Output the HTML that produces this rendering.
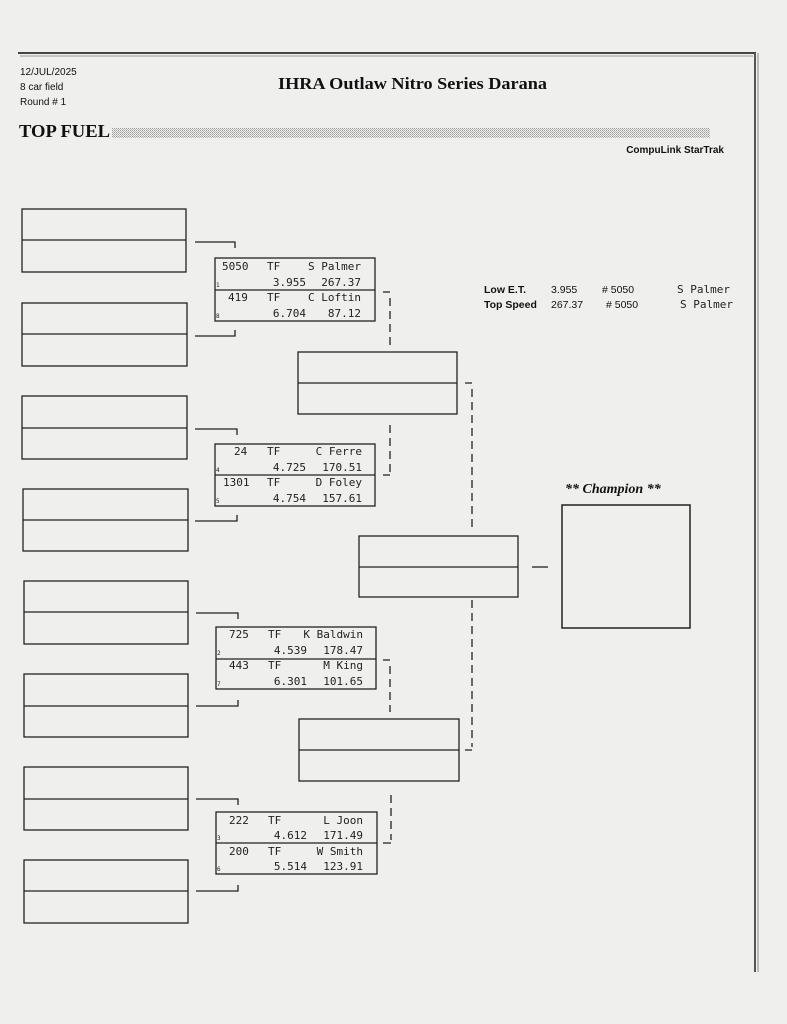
<!DOCTYPE html>
<html><head><meta charset="utf-8"><style>
html,body{margin:0;padding:0;background:#efefee;}
svg{display:block}
.m{font-family:"DejaVu Sans Mono","Liberation Mono",monospace;font-size:11px;fill:#222}
.s{font-family:"Liberation Sans",sans-serif;fill:#111}
.sd{font-family:"DejaVu Sans Mono",monospace;font-size:6px;fill:#222}
</style></head><body>
<svg width="787" height="1024" viewBox="0 0 787 1024" xmlns="http://www.w3.org/2000/svg">
<defs><pattern id="dots" width="2" height="2" patternUnits="userSpaceOnUse"><rect width="1" height="1" fill="#888"/><rect x="1" y="1" width="1" height="1" fill="#aaa"/></pattern></defs>
<rect width="787" height="1024" fill="#efefee"/>
<line x1="18" y1="53" x2="756" y2="53" stroke="#444" stroke-width="2"/>
<line x1="20" y1="56" x2="753" y2="56" stroke="#999" stroke-width="1"/>
<line x1="755" y1="53" x2="755" y2="972" stroke="#555" stroke-width="2"/>
<line x1="758" y1="53" x2="758" y2="972" stroke="#888" stroke-width="1"/>
<text x="20" y="75" class="s" font-size="10">12/JUL/2025</text>
<text x="20" y="90" class="s" font-size="10">8 car field</text>
<text x="20" y="105" class="s" font-size="10">Round # 1</text>
<text x="278" y="89" font-family="Liberation Serif,serif" font-weight="bold" font-size="17" fill="#111" textLength="269" lengthAdjust="spacingAndGlyphs">IHRA Outlaw Nitro Series Darana</text>
<text x="19" y="137" font-family="Liberation Serif,serif" font-weight="bold" font-size="18" fill="#111" textLength="91" lengthAdjust="spacingAndGlyphs">TOP FUEL</text>
<rect x="112" y="128" width="598" height="10" fill="url(#dots)" opacity="0.8"/>
<text x="724" y="153" class="s" font-size="10" text-anchor="end" font-weight="bold">CompuLink StarTrak</text>
<g stroke="#222" stroke-width="1.3" fill="none">
<rect x="22" y="209" width="164" height="63"/><line x1="22" y1="240" x2="186" y2="240"/>
<rect x="22" y="303" width="165" height="63"/><line x1="22" y1="334" x2="187" y2="334"/>
<rect x="22" y="396" width="165" height="63"/><line x1="22" y1="428" x2="187" y2="428"/>
<rect x="23" y="489" width="165" height="62"/><line x1="23" y1="520" x2="188" y2="520"/>
<rect x="24" y="581" width="164" height="63"/><line x1="24" y1="612" x2="188" y2="612"/>
<rect x="24" y="674" width="164" height="63"/><line x1="24" y1="706" x2="188" y2="706"/>
<rect x="24" y="767" width="164" height="63"/><line x1="24" y1="799" x2="188" y2="799"/>
<rect x="24" y="860" width="164" height="63"/><line x1="24" y1="891" x2="188" y2="891"/>
<path d="M195 242H235V248M195 336H235V330"/>
<path d="M195 429H237V435M195 521H237V515"/>
<path d="M196 613H238V619M196 706H238V700"/>
<path d="M196 799H238V805M196 891H238V885"/>
<rect x="215" y="258" width="160" height="63"/><line x1="215" y1="290" x2="375" y2="290"/>
<rect x="215" y="444" width="160" height="62"/><line x1="215" y1="475" x2="375" y2="475"/>
<rect x="216" y="627" width="160" height="62"/><line x1="216" y1="659" x2="376" y2="659"/>
<rect x="216" y="812" width="161" height="62"/><line x1="216" y1="843" x2="377" y2="843"/>
<rect x="298" y="352" width="159" height="62"/><line x1="298" y1="383" x2="457" y2="383"/>
<rect x="299" y="719" width="160" height="62"/><line x1="299" y1="750" x2="459" y2="750"/>
<rect x="359" y="536" width="159" height="61"/><line x1="359" y1="567" x2="518" y2="567"/>
<rect x="562" y="505" width="128" height="123" stroke-width="1.5"/>
<line x1="532" y1="567" x2="548" y2="567"/>
<path d="M383 292H390M383 475H390M383 660H390M383 843H391M465 383H472M465 750H472"/>
</g>
<g stroke="#222" stroke-width="1.3" stroke-dasharray="8,5" fill="none">
<line x1="390" y1="298" x2="390" y2="345"/>
<line x1="390" y1="425" x2="390" y2="472"/>
<line x1="390" y1="666" x2="390" y2="712"/>
<line x1="391" y1="795" x2="391" y2="840"/>
<line x1="472" y1="389" x2="472" y2="528"/>
<line x1="472" y1="600" x2="472" y2="747"/>
</g>
<g class="m">
<text x="222" y="270">5050</text><text x="267" y="270">TF</text><text x="361" y="270" text-anchor="end">S Palmer</text>
<text x="306" y="286" text-anchor="end">3.955</text><text x="361" y="286" text-anchor="end">267.37</text>
<text x="228" y="301">419</text><text x="267" y="301">TF</text><text x="361" y="301" text-anchor="end">C Loftin</text>
<text x="306" y="317" text-anchor="end">6.704</text><text x="361" y="317" text-anchor="end">87.12</text>
<text x="234" y="455">24</text><text x="267" y="455">TF</text><text x="362" y="455" text-anchor="end">C Ferre</text>
<text x="306" y="471" text-anchor="end">4.725</text><text x="362" y="471" text-anchor="end">170.51</text>
<text x="223" y="486">1301</text><text x="267" y="486">TF</text><text x="362" y="486" text-anchor="end">D Foley</text>
<text x="306" y="502" text-anchor="end">4.754</text><text x="362" y="502" text-anchor="end">157.61</text>
<text x="229" y="638">725</text><text x="268" y="638">TF</text><text x="363" y="638" text-anchor="end">K Baldwin</text>
<text x="307" y="654" text-anchor="end">4.539</text><text x="363" y="654" text-anchor="end">178.47</text>
<text x="229" y="669">443</text><text x="268" y="669">TF</text><text x="363" y="669" text-anchor="end">M King</text>
<text x="307" y="685" text-anchor="end">6.301</text><text x="363" y="685" text-anchor="end">101.65</text>
<text x="229" y="824">222</text><text x="268" y="824">TF</text><text x="363" y="824" text-anchor="end">L Joon</text>
<text x="307" y="839" text-anchor="end">4.612</text><text x="363" y="839" text-anchor="end">171.49</text>
<text x="229" y="855">200</text><text x="268" y="855">TF</text><text x="363" y="855" text-anchor="end">W Smith</text>
<text x="307" y="870" text-anchor="end">5.514</text><text x="363" y="870" text-anchor="end">123.91</text>
</g>
<g class="sd">
<text x="216" y="287">1</text><text x="216" y="318">8</text>
<text x="216" y="472">4</text><text x="216" y="503">5</text>
<text x="217" y="655">2</text><text x="217" y="686">7</text>
<text x="217" y="840">3</text><text x="217" y="871">6</text>
</g>
<text x="484" y="293" class="s" font-size="10.5" font-weight="bold">Low  E.T.</text>
<text x="484" y="308" class="s" font-size="10.5" font-weight="bold">Top Speed</text>
<text x="551" y="293" class="s" font-size="10.5">3.955</text>
<text x="551" y="308" class="s" font-size="10.5">267.37</text>
<text x="602" y="293" class="s" font-size="10.5"># 5050</text>
<text x="606" y="308" class="s" font-size="10.5"># 5050</text>
<text x="730" y="293" class="m" font-size="10.5" text-anchor="end">S Palmer</text>
<text x="733" y="308" class="m" font-size="10.5" text-anchor="end">S Palmer</text>
<text x="565" y="493" font-family="Liberation Serif,serif" font-style="italic" font-weight="bold" font-size="14" fill="#111">** Champion **</text>
</svg>
</body></html>
